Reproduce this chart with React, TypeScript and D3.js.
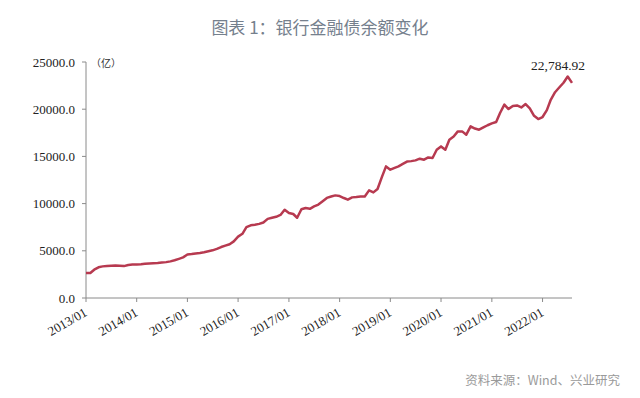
import React from 'react';
import * as d3 from 'd3';

// monthly balance (亿元), 2013/01 .. 2022/08
const startMonth = new Date(2013, 0, 1);
const values = [
  2650, 2650, 3000, 3250, 3350, 3400, 3420, 3450, 3420, 3380, 3500, 3550,
  3550, 3580, 3620, 3650, 3680, 3700, 3750, 3800, 3880, 4000, 4150, 4300,
  4600, 4650, 4720, 4770, 4850, 4950, 5050, 5200, 5400, 5550, 5700, 6000,
  6500, 6800, 7500, 7700, 7760, 7850, 8000, 8380, 8500, 8600, 8800, 9350,
  9000, 8900, 8500, 9400, 9530, 9450, 9700, 9900, 10250, 10600, 10750, 10870,
  10800, 10590, 10420, 10660, 10700, 10760, 10760, 11400, 11190, 11550, 12800, 13940,
  13590, 13780, 13950, 14200, 14450, 14500, 14580, 14760, 14650, 14890, 14830, 15700,
  16060, 15710, 16770, 17100, 17650, 17650, 17300, 18180, 17950, 17830, 18070, 18300,
  18500, 18650, 19600, 20480, 20020, 20350, 20400, 20190, 20550, 20100, 19300, 18960,
  19170, 19900, 21000, 21800, 22300, 22800, 23470, 22784.92,
];
const yTicks = [0, 5000, 10000, 15000, 20000, 25000];
const xTickYears = [2013, 2014, 2015, 2016, 2017, 2018, 2019, 2020, 2021, 2022];

const title = '图表 1：银行金融债余额变化';
const unitLabel = '（亿）';
const sourceText = '资料来源：Wind、兴业研究';

const W = 640, H = 398;
const left = 86, right = 572, top = 62, bottom = 298;
const serif = '"Liberation Serif", "Times New Roman", serif';
const sans = '"Noto Sans CJK SC", "Noto Sans", sans-serif';

export default function App() {
  const data = values.map((v, i) => ({ date: d3.timeMonth.offset(startMonth, i), v }));
  const x = d3.scaleTime().domain([startMonth, data[data.length - 1].date]).range([left, right]);
  const y = d3.scaleLinear().domain([0, 25000]).range([bottom, top]);
  const line = d3.line<{ date: Date; v: number }>().x(d => x(d.date)).y(d => y(d.v));
  const last = data[data.length - 1];

  return (
    <svg width={W} height={H} style={{ position: 'absolute', left: 0, top: 0, background: '#fff' }}>
      <text x={320} y={34} textAnchor="middle" fontFamily={sans} fontSize={17} fill="#75808d">{title}</text>

      {/* y axis */}
      <line x1={left} x2={left} y1={top} y2={bottom} stroke="#8a8a8a" strokeWidth={1} />
      {yTicks.map(t => (
        <g key={t}>
          <line x1={left - 4} x2={left} y1={y(t)} y2={y(t)} stroke="#8a8a8a" />
          <text x={left - 11} y={y(t) + 4.5} textAnchor="end" fontFamily={serif} fontSize={13} fill="#222">
            {d3.format('.1f')(t)}
          </text>
        </g>
      ))}
      <text x={91} y={67} fontFamily={sans} fontSize={10} fill="#333">{unitLabel}</text>

      {/* x axis */}
      <line x1={left} x2={right} y1={bottom} y2={bottom} stroke="#8a8a8a" strokeWidth={1} />
      {xTickYears.map(yr => {
        const tx = x(new Date(yr, 0, 1));
        return (
          <g key={yr}>
            <line x1={tx} x2={tx} y1={bottom} y2={bottom + 4} stroke="#8a8a8a" />
            <text transform={`translate(${tx + 2},${bottom + 17}) rotate(-30)`} textAnchor="end"
              fontFamily={serif} fontSize={13} fill="#222">{`${yr}/01`}</text>
          </g>
        );
      })}

      <path d={line(data) || ''} fill="none" stroke="#b73a50" strokeWidth={2.5} strokeLinejoin="round" />
      <text x={x(last.date) - 14} y={70} textAnchor="middle" fontFamily={serif} fontSize={13.5} fill="#222">
        {d3.format(',.2f')(last.v)}
      </text>

      <text x={620} y={385} textAnchor="end" fontFamily={sans} fontSize={12.5} fill="#9a9a9a">{sourceText}</text>
    </svg>
  );
}
